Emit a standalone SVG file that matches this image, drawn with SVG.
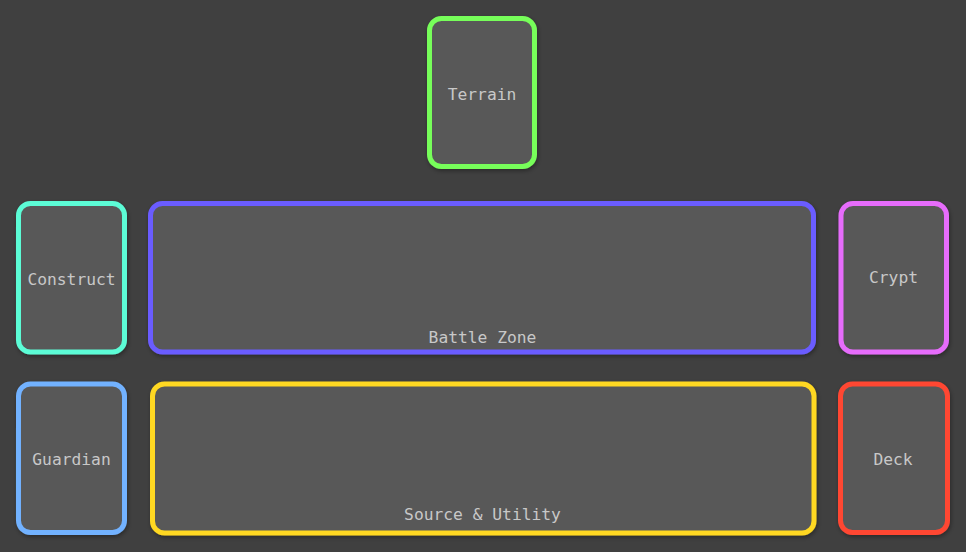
<svg xmlns="http://www.w3.org/2000/svg" width="966" height="552" viewBox="0 0 966 552">
<defs>
<filter id="sh" x="-10%" y="-10%" width="130%" height="130%">
<feDropShadow dx="1" dy="2" stdDeviation="2" flood-color="#000" flood-opacity="0.35"/>
</filter>
</defs>
<style>
.zone{fill:#595959;stroke-width:5;filter:url(#sh)}
.lbl{font-family:"DejaVu Sans Mono","Liberation Mono",monospace;font-size:16.3px;fill:#c8c8c8;text-anchor:middle}
</style>
<rect x="0" y="0" width="966" height="552" fill="#404040"/>
<g id="connectors"></g>
<g id="terrain">
<rect class="zone" x="429.5" y="18.5" width="105" height="148" rx="12" stroke="#77fe5a"/>
<text class="lbl" x="482" y="99.5">Terrain</text>
</g>
<g id="construct">
<rect class="zone" x="18.5" y="203.5" width="106" height="148.5" rx="12" stroke="#5cfcd6"/>
<text class="lbl" x="71.5" y="284.5">Construct</text>
</g>
<g id="battle-zone">
<rect class="zone" x="150.5" y="203.5" width="663" height="148.5" rx="12" stroke="#6b5cff"/>
<text class="lbl" x="482.5" y="343">Battle Zone</text>
</g>
<g id="crypt">
<rect class="zone" x="841" y="203.5" width="105.5" height="148.5" rx="12" stroke="#e66cfb"/>
<text class="lbl" x="893.5" y="282.5">Crypt</text>
</g>
<g id="guardian">
<rect class="zone" x="18.5" y="384" width="106" height="148.5" rx="12" stroke="#72b2ff"/>
<text class="lbl" x="71.5" y="465">Guardian</text>
</g>
<g id="source-utility">
<rect class="zone" x="152.5" y="384" width="661.5" height="149" rx="12" stroke="#ffd820"/>
<text class="lbl" x="482.5" y="520">Source &amp; Utility</text>
</g>
<g id="deck">
<rect class="zone" x="840.5" y="384" width="107" height="148.5" rx="12" stroke="#ff4633"/>
<text class="lbl" x="893" y="464.5">Deck</text>
</g>
</svg>
